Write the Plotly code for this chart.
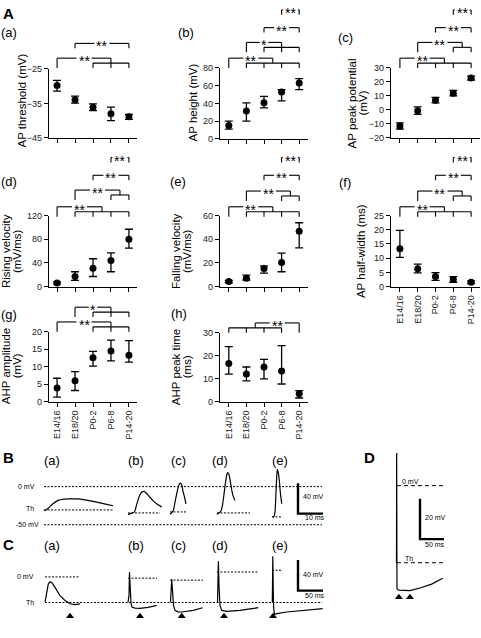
import plotly.graph_objects as go

W, H = 481, 638
FONT = "Liberation Sans, Arial, sans-serif"

# ---------------- data: panel A ----------------
groups = ["E14/16", "E18/20", "P0-2", "P6-8", "P14-20"]

ap_threshold = [-29.8, -33.9, -36.1, -38.0, -38.9]
ap_threshold_up = [1.5, 1.0, 1.0, 1.9, 0.7]
ap_threshold_dn = [1.6, 1.0, 1.0, 2.0, 0.7]

ap_height = [15.2, 31.5, 40.7, 53.0, 63.0]
ap_height_up = [4.8, 9.2, 7.3, 2.5, 5.0]
ap_height_dn = [4.2, 11.5, 5.7, 10.0, 7.5]

ap_peak = [-11.5, -0.5, 7.0, 12.0, 22.8]
ap_peak_up = [2.3, 2.7, 2.0, 2.0, 1.4]
ap_peak_dn = [2.3, 2.7, 2.0, 2.0, 1.4]

rising_vel = [6.0, 17.0, 31.0, 44.0, 80.0]
rising_vel_up = [2.0, 8.0, 16.0, 13.0, 17.0]
rising_vel_dn = [2.0, 6.5, 14.0, 19.0, 15.0]

falling_vel = [4.2, 7.0, 15.3, 20.3, 46.7]
falling_vel_up = [1.0, 2.7, 2.0, 8.0, 7.3]
falling_vel_dn = [1.0, 1.5, 4.0, 7.8, 14.0]

half_width = [13.3, 6.3, 3.5, 2.5, 1.5]
half_width_up = [6.5, 1.6, 1.4, 1.0, 0.5]
half_width_dn = [3.0, 1.5, 1.3, 1.0, 0.5]

ahp_amp = [3.9, 6.0, 12.6, 14.5, 13.3]
ahp_amp_up = [2.8, 2.6, 1.8, 3.1, 4.2]
ahp_amp_dn = [2.6, 2.8, 2.4, 2.8, 2.0]

ahp_time = [16.6, 12.0, 15.1, 13.4, 3.4]
ahp_time_up = [7.4, 3.1, 3.3, 11.0, 1.4]
ahp_time_dn = [4.6, 2.9, 5.2, 5.7, 1.8]

# significance comparisons: (left group, right group, label)
sig_a = [([0], [2, 3, 4], "**"), ([1], [4], "**")]
sig_b = [([3], [4], "**"), ([2], [4], "**"), ([1], [2, 3, 4], "*"), ([0], [1, 2, 3, 4], "**")]
sig_c = [([3], [4], "**"), ([2], [4], "**"), ([1], [3, 4], "**"), ([0], [1, 2, 3, 4], "**")]
sig_d = [([3], [4], "**"), ([2], [4], "**"), ([1], [3, 4], "**"), ([0], [1, 2, 3, 4], "**")]
sig_e = [([3], [4], "**"), ([2], [4], "**"), ([1], [3, 4], "**"), ([0], [1, 2, 3, 4], "**")]
sig_f = [([3], [4], "**"), ([2], [4], "**"), ([1], [3, 4], "**"), ([0], [1, 2, 3, 4], "**")]
sig_g = [([1], [2, 3, 4], "*"), ([0], [2, 3, 4], "**")]
sig_h = [([0, 1, 2, 3], [4], "**")]

# ---------------- data: example traces (ms, mV) ----------------
# B: absolute membrane potential
bA_t = [0, 0.8, 2, 3.6, 5.6, 8, 10.4, 13.6, 19.6, 27.6]
bA_v = [-31.3, -30.6, -27.4, -22.5, -18.1, -16.3, -16.0, -16.1, -19.4, -25.1]
bB_t = [0, 1.2, 2.6, 3.2, 4, 4.8, 5.6, 6.4, 7.2, 8.4, 10, 11.6, 13.5]
bB_v = [-36.7, -35.1, -33.2, -26.7, -17.7, -10.6, -7.1, -6.3, -8.0, -12.5, -18.3, -22.9, -26.7]
bC_t = [0, 0.8, 1.4, 2, 2.8, 3.6, 4, 4.6, 5.2, 5.8, 6.4]
bC_v = [-36.2, -33.9, -30.6, -20.3, -7.4, 2.3, 4.7, 3.0, -6.1, -13.8, -22.5]
bD_t = [0, 0.9, 1.7, 2.3, 2.9, 3.5, 4.1, 4.4, 4.9, 5.5, 6.1, 6.7, 7.3]
bD_v = [-36.2, -34.5, -31.9, -24.2, -10.0, 5.6, 16.5, 18.3, 15.9, 5.6, -6.1, -13.8, -18.1]
bE_t = [0, 0.6, 1.0, 1.4, 1.8, 2.0, 2.4, 2.8, 3.2, 3.7]
bE_v = [-40.3, -39.0, -33.2, -7.4, 18.5, 22.7, 17.2, 5.6, -9.9, -22.5]
b_threshold = [-30.6, -34.5, -33.2, -34.5, -39.7]

# C: potential relative to threshold
cA_t = [0, 3.4, 6.6, 10, 13.4, 20, 30, 40, 50, 60, 70]
cA_v = [0.4, 11.2, 24.0, 26.9, 26.0, 19.6, 9.0, 2.6, -1.7, -2.9, -1.7]
cB_t = [0, 2, 3, 4, 6, 8, 14, 24, 40, 57.4]
cB_v = [0, 9.0, 39.7, 21.8, -1.3, -5.8, -7.3, -7.7, -6.4, -3.8]
cC_t = [0, 1.4, 2.4, 4, 6, 9, 15, 22.4, 33, 45.6, 64.4]
cC_v = [0, 15.4, 30.4, 15.4, -3.8, -10.3, -12.2, -12.4, -11.5, -10.3, -6.8]
cD_t = [0, 1, 1.8, 3, 5, 8.4, 18.4, 31, 45, 65, 81.6]
cD_v = [0, 21.8, 53.8, 21.8, -3.8, -10.3, -11.5, -10.9, -10.3, -8.3, -6.8]
cE_t = [0, 0.6, 1, 1.8, 2.6, 4.4, 8.8, 28.8, 68.8, 100.8]
cE_v = [0, 28.2, 60.3, 21.8, -6.4, -15.4, -14.5, -12.4, -10.3, -8.1]
c_zero_level = [33.3, 31.7, 29.1, 39.7, 41.9]
c_ahp_peak_t = [50, 24, 22.4, 13, 1.4]

# D
dT_t = [0, 0.4, 1.0, 4.2, 15.6, 28.1, 49.0, 73.3, 96.3]
dT_v = [-38.2, 16.2, -51.0, -51.8, -52.0, -52.0, -50.7, -48.8, -45.9]
d_threshold = -38.2
d_marks_t = [5, 28]

# ---------------- layout helpers ----------------
def px(x):
    return x / W

def py(y):
    return 1 - y / H

fig = go.Figure()
layout = dict(width=W, height=H, margin=dict(l=0, r=0, t=0, b=0),
              paper_bgcolor="white", plot_bgcolor="rgba(0,0,0,0)",
              showlegend=False, font=dict(family=FONT, color="black"))
shapes, annotations = [], []

def text(x, y, s, size=11, xanchor="center", yanchor="middle", angle=0, bold=False, ref=("paper", "paper"), **kw):
    if bold:
        s = "<b>" + s + "</b>"
    xx = px(x) if ref[0] == "paper" else x
    yy = py(y) if ref[1] == "paper" else y
    annotations.append(dict(x=xx, y=yy, xref=ref[0], yref=ref[1], text=s, showarrow=False,
                            xanchor=xanchor, yanchor=yanchor, textangle=angle,
                            font=dict(size=size, family=FONT, color="black"), **kw))

cols = [(49, 137, [-0.45, 4.45]), (220, 308, [-0.5, 4.5]), (391, 480, [-0.5, 4.5])]

panels = [
    ("(a)", 0, (65, 135), [-45, -25], [-45, -35, -25], ap_threshold, ap_threshold_up, ap_threshold_dn, sig_a, [54, 39],
     ["AP threshold (mV)"], [22], 97, (9, 28), False),
    ("(b)", 1, (64, 136), [0, 80], [0, 20, 40, 60, 80], ap_height, ap_height_up, ap_height_dn, sig_b, [5, 23, 38, 54],
     ["AP height (mV)"], [193], 99, (186, 28), False),
    ("(c)", 2, (64, 135), [-20, 30], [-20, -10, 0, 10, 20, 30], ap_peak, ap_peak_up, ap_peak_dn, sig_c, [5, 23, 38, 54],
     ["AP peak potential", "(mV)"], [352, 363], 100, (345, 33), False),
    ("(d)", 0, (214, 286), [0, 120], [0, 40, 80, 120], rising_vel, rising_vel_up, rising_vel_dn, sig_d, [155, 173, 188, 205],
     ["Rising velocity", "(mV/ms)"], [6, 17], 250, (9, 179), False),
    ("(e)", 1, (214, 286), [0, 60], [0, 20, 40, 60], falling_vel, falling_vel_up, falling_vel_dn, sig_e, [155, 173, 189, 205],
     ["Falling velocity", "(mV/ms)"], [176, 187], 250, (178, 179), False),
    ("(f)", 2, (214, 286), [0, 25], [0, 5, 10, 15, 20, 25], half_width, half_width_up, half_width_dn, sig_f, [155, 173, 189, 205],
     ["AP half-width (ms)"], [361], 250, (345, 180), True),
    ("(g)", 0, (332, 403), [0, 20], [0, 5, 10, 15, 20], ahp_amp, ahp_amp_up, ahp_amp_dn, sig_g, [307, 322],
     ["AHP amplitude", "(mV)"], [6, 17], 367, (9, 314), True),
    ("(h)", 1, (333, 403), [0, 30], [0, 10, 20, 30], ahp_time, ahp_time_up, ahp_time_dn, sig_h, [323],
     ["AHP peak time", "(ms)"], [176, 187], 368, (179, 313), True),
]

def line_shape(xref, x0, x1, y0, y1, w=1.1):
    shapes.append(dict(type="line", xref=xref, yref="paper", x0=x0, x1=x1, y0=py(y0), y1=py(y1),
                       line=dict(color="black", width=w)))

def bracket(xref, left, right, yl, label, unit_px):
    has_comb = len(left) > 1 or len(right) > 1
    bottom = yl + (10 if has_comb else 5)
    anchors = []
    for grp in (left, right):
        if len(grp) == 1:
            line_shape(xref, grp[0], grp[0], yl, bottom)
            anchors.append(grp[0])
        else:
            c = (grp[0] + grp[-1]) / 2
            line_shape(xref, c, c, yl, yl + 5)
            line_shape(xref, grp[0], grp[-1], yl + 5, yl + 5)
            for g in grp:
                line_shape(xref, g, g, yl + 5, yl + 10)
            anchors.append(c)
    mid = (anchors[0] + anchors[1]) / 2
    half_gap = (6.5 * len(label) + 2) / 2 / unit_px
    if mid - half_gap > anchors[0]:
        line_shape(xref, anchors[0], mid - half_gap, yl, yl)
        line_shape(xref, mid + half_gap, anchors[1], yl, yl)
    text(mid, yl, label, size=14, ref=(xref, "paper"), yshift=-3)

for i, (lab, col, (yt, yb), yr, yticks, vals, up, dn, sig, sig_y, ytitle, ytx, yty, labpos, xlabels) in enumerate(panels):
    n = i + 1
    sx = "" if n == 1 else str(n)
    x0, x1, xr = cols[col]
    unit_px = (x1 - x0) / (xr[1] - xr[0])
    layout["xaxis" + sx] = dict(domain=[px(x0), px(x1)], range=xr, anchor="y" + sx,
                                showline=True, linecolor="black", linewidth=1.3,
                                ticks="outside", ticklen=4, tickwidth=1, tickcolor="black",
                                tickvals=list(range(len(groups))), ticktext=groups,
                                showticklabels=xlabels, tickangle=-90,
                                tickfont=dict(size=9, family=FONT, color="#222"),
                                showgrid=False, zeroline=False, fixedrange=True)
    layout["yaxis" + sx] = dict(domain=[py(yb), py(yt)], range=yr, anchor="x" + sx,
                                showline=True, linecolor="black", linewidth=1.3,
                                ticks="outside", ticklen=4, tickwidth=1, tickcolor="black",
                                tickvals=yticks, tickfont=dict(size=9, family=FONT, color="#222"),
                                showgrid=False, zeroline=False, fixedrange=True)
    fig.add_trace(go.Scatter(x=list(range(len(groups))), y=vals, mode="markers",
                             xaxis="x" + sx, yaxis="y" + sx, cliponaxis=False,
                             marker=dict(color="black", size=7, symbol="circle"),
                             error_y=dict(type="data", array=up, arrayminus=dn, symmetric=False,
                                          color="black", thickness=1.3, width=4)))
    xref = "x" + sx
    for (lg, rg, s), yl in zip(sig, sig_y):
        bracket(xref, lg, rg, yl, s, unit_px)
    for t, xc in zip(ytitle, ytx):
        text(xc, yty, t, size=11.5, angle=-90)
    text(labpos[0], labpos[1], lab, size=13)

# panel letters
text(8, 9, "A", size=15, bold=True)
text(8, 460, "B", size=15, bold=True)
text(8, 548, "C", size=15, bold=True)
text(369, 460, "D", size=15, bold=True)

# ---------------- B / C / D axes ----------------
hidden = dict(visible=False, showgrid=False, zeroline=False, fixedrange=True)
B_PX_MS, B_PX_MV, B_ZERO = 2.5, 0.774, 489.3
layout["xaxis9"] = dict(domain=[0, 1], range=[0, W / B_PX_MS], anchor="y9", **hidden)
layout["yaxis9"] = dict(domain=[py(540), py(450)], range=[(B_ZERO - 540) / B_PX_MV, (B_ZERO - 450) / B_PX_MV], anchor="x9", **hidden)
C_PX_MS, C_PX_MV, C_TH = 0.5, 0.78, 607
layout["xaxis10"] = dict(domain=[0, 1], range=[0, W / C_PX_MS], anchor="y10", **hidden)
layout["yaxis10"] = dict(domain=[py(632), py(545)], range=[(C_TH - 632) / C_PX_MV, (C_TH - 545) / C_PX_MV], anchor="x10", **hidden)
D_PX_MS, D_PX_MV, D_ZERO = 0.48, 2.05, 488.3
layout["xaxis11"] = dict(domain=[0, 1], range=[0, W / D_PX_MS], anchor="y11", **hidden)
layout["yaxis11"] = dict(domain=[py(612), py(450)], range=[(D_ZERO - 612) / D_PX_MV, (D_ZERO - 450) / D_PX_MV], anchor="x11", **hidden)

def add_line(xs, ys, ax, width=1.2, dash=None, shape="linear", color="black"):
    fig.add_trace(go.Scatter(x=xs, y=ys, mode="lines", xaxis="x" + ax, yaxis="y" + ax, hoverinfo="skip",
                             line=dict(color=color, width=width, dash=dash, shape=shape, smoothing=0.6)))

# B
b_onsets = [17.6, 51.2, 68.0, 86.7, 109.0]
b_th_span = [(0, 27.6), (0, 12.8), (0, 6.8), (0.1, 13.3), (-0.2, 4.0)]
for on, (ts, vs), th, (s0, s1) in zip(b_onsets, [(bA_t, bA_v), (bB_t, bB_v), (bC_t, bC_v), (bD_t, bD_v), (bE_t, bE_v)],
                                      b_threshold, b_th_span):
    add_line([on + s0, on + s1], [th, th], "9", width=1, dash="2px,1.5px")
    add_line([on + t for t in ts], vs, "9", width=1.2, shape="spline")
add_line([17.6, 128.8], [0, 0], "9", width=1, dash="2px,1.5px")
add_line([17.6, 128.8], [-50, -50], "9", width=1, dash="2px,1.5px")
add_line([119.2, 119.2, 129.2], [4.6, -35.4, -35.4], "9", width=2.4)
for xl, lab in zip([52, 136, 178, 220, 280], ["(a)", "(b)", "(c)", "(d)", "(e)"]):
    text(xl, 463, lab, size=13)
text(26, 489, "0 mV", size=7)
text(30, 512, "Th", size=7)
text(27, 528, "-50 mV", size=7)
text(301, 499, "40 mV", size=7, xanchor="left")
text(303, 521, "10 ms", size=7, xanchor="left")

# C
c_onsets = [90, 256, 341, 435, 544.6]
c_zero_span = [(0, 70), (0, 58), (-1, 65), (-1, 83), (-0.6, 21)]
for on, (ts, vs), zl, (s0, s1), ta in zip(c_onsets, [(cA_t, cA_v), (cB_t, cB_v), (cC_t, cC_v), (cD_t, cD_v), (cE_t, cE_v)],
                                          c_zero_level, c_zero_span, c_ahp_peak_t):
    add_line([on + s0, on + s1], [zl, zl], "10", width=1, dash="2px,1.5px")
    add_line([on + t for t in ts], vs, "10", width=1.2)
    fig.add_trace(go.Scatter(x=[on + ta], y=[-18], mode="markers", xaxis="x10", yaxis="y10", hoverinfo="skip",
                             marker=dict(symbol="triangle-up", size=7, color="black")))
add_line([90, 644], [0, 0], "10", width=1, dash="2px,1.5px")
add_line([596, 596, 646], [55.4, 15.4, 15.4], "10", width=2.4)
for xl, lab in zip([52, 136, 178, 220, 280], ["(a)", "(b)", "(c)", "(d)", "(e)"]):
    text(xl, 549, lab, size=13)
text(25, 581, "0 mV", size=7)
text(30, 607, "Th", size=7)
text(301, 579, "40 mV", size=7, xanchor="left")
text(303, 600, "50 ms", size=7, xanchor="left")

# D
d_onset = 826
add_line([d_onset + t for t in dT_t], dT_v, "11", width=1.2)
add_line([827, 923], [0, 0], "11", width=1, dash="4px,3px")
add_line([827, 923], [d_threshold, d_threshold], "11", width=1, dash="4px,3px")
add_line([875, 875, 925], [-6.5, -26.5, -26.5], "11", width=2.4)
fig.add_trace(go.Scatter(x=[d_onset + t for t in d_marks_t], y=[-55.3, -55.3], mode="markers", xaxis="x11", yaxis="y11",
                         hoverinfo="skip", marker=dict(symbol="triangle-up", size=7, color="black")))
text(400, 484, "0 mV", size=7, xanchor="left")
text(403, 562, "Th", size=7, xanchor="left")
text(423, 521, "20 mV", size=7, xanchor="left")
text(423, 548, "50 ms", size=7, xanchor="left")

layout["shapes"] = shapes
layout["annotations"] = annotations
fig.update_layout(**layout)
fig.write_html("out.html", config={"displayModeBar": False},
               post_script="document.body.style.margin='0px';document.body.style.overflow='hidden';")
